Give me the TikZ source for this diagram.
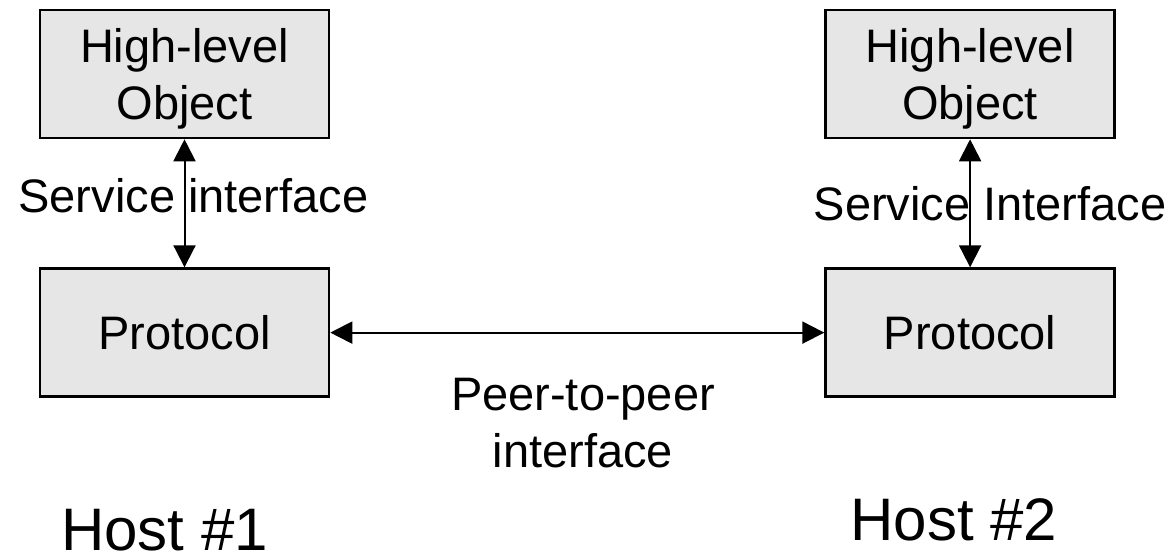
\documentclass[tikz,border=0pt]{standalone}
\usepackage{fontspec}
\setmainfont{Liberation Sans}
\usepackage{tikz}
\usetikzlibrary{arrows.meta,positioning}
\definecolor{boxgray}{RGB}{230,230,230}

\begin{document}
\begin{tikzpicture}[x=0.5pt,y=-0.5pt,node distance=64pt,
    >={Triangle[length=11pt,width=11pt]},
    box/.style={rectangle,draw,line width=1.3pt,fill=boxgray,align=center,inner sep=0pt,
        minimum width=144.5pt,minimum height=64pt,text depth=0pt,font=\fontsize{23.5}{28.5}\selectfont},
    lbl/.style={inner sep=0pt,align=center,font=\fontsize{23.5}{28.5}\selectfont},
    host/.style={inner sep=0pt,font=\fontsize{30}{36}\selectfont}]

    \useasboundingbox (0,0) rectangle (1172,558);

    \node[box] (hlo1) at (184.5,74) {High-level\\Object};
    \node[box,below=of hlo1] (proto1) {Protocol};
    \node[box,right=247pt of proto1] (proto2) {Protocol};
    \node[box,above=of proto2] (hlo2) {High-level\\Object};

    \draw[<->,line width=1pt] (hlo1) -- node[lbl,xshift=4.5pt,yshift=4pt] {Service interface} (proto1);
    \draw[<->,line width=1pt] (hlo2) -- node[lbl,xshift=10pt] {Service Interface} (proto2);
    \draw[<->,line width=1pt] (proto1) -- (proto2);

    % Annotations
    \node[lbl,anchor=north] (peer) at (583,378) {Peer-to-peer\\interface};
    \node[host,anchor=base] (host1) at (164.5,550) {Host \#1};
    \node[host,anchor=base] (host2) at (954,540) {Host \#2};
\end{tikzpicture}
\end{document}
